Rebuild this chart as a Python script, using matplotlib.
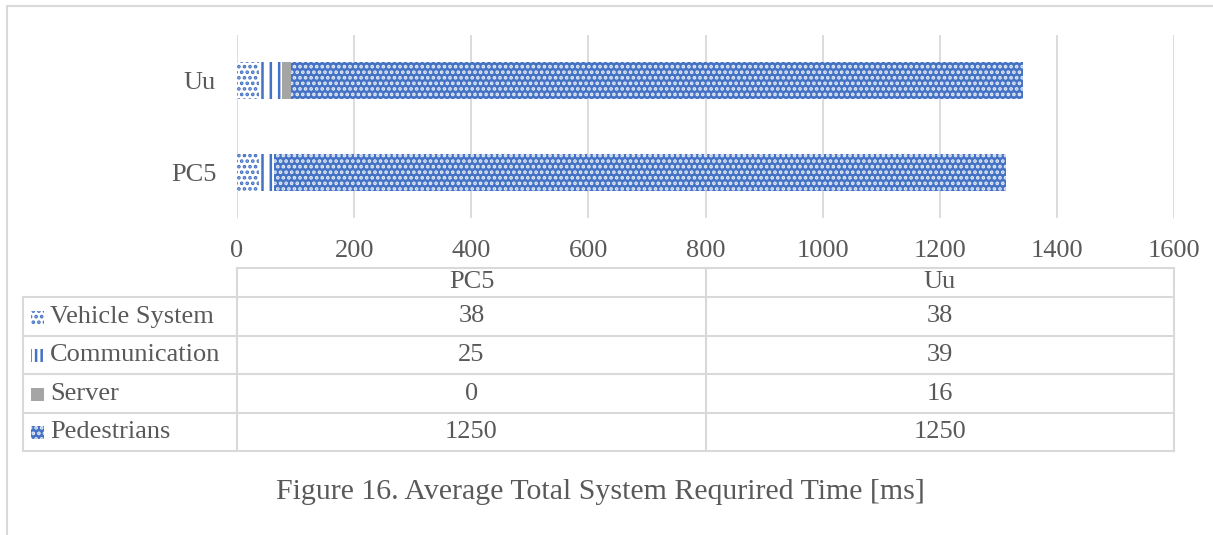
import matplotlib.pyplot as plt
from matplotlib.patches import Rectangle

# data
systems = ["PC5", "Uu"]
components = ["Vehicle System", "Communication", "Server", "Pedestrians"]
vehicle = [38, 38]
communication = [25, 39]
server = [0, 16]
pedestrians = [1250, 1250]
xticks = [0, 200, 400, 600, 800, 1000, 1200, 1400, 1600]
caption = "Figure 16. Average Total System Requrired Time [ms]"

W, H = 1213, 535
BLUE = "#4472C4"
GRAY = "#A5A5A5"
LINE = "#D9D9D9"
TXT = "#595959"
FS = 19

plt.rcParams["font.family"] = ["Liberation Serif", "DejaVu Serif"]
plt.rcParams["hatch.linewidth"] = 1.8

# style per component: facecolor, hatch, hatch colour
styles = [
    dict(facecolor="white", hatch="...", edgecolor=BLUE),
    dict(facecolor="white", hatch="||", edgecolor=BLUE),
    dict(facecolor=GRAY, hatch=None, edgecolor=GRAY),
    dict(facecolor=BLUE, hatch="...", edgecolor="#E4EBF7"),
]
series = [vehicle, communication, server, pedestrians]


def fig_box(left, top, right, bottom):
    return [left / W, 1 - bottom / H, (right - left) / W, (bottom - top) / H]


fig = plt.figure(figsize=(W / 100, H / 100), dpi=100)

# outer frame
fig.patches.append(Rectangle((7 / W, -0.1), 1.2, 1 - 6 / H + 0.1, transform=fig.transFigure,
                             fill=False, edgecolor=LINE, linewidth=1.5))

ax = fig.add_axes(fig_box(237, 35, 1174, 218))
left = [0, 0]
for vals, st in zip(series, styles):
    ax.barh(systems, vals, left=left, height=0.4, linewidth=0, zorder=3, **st)
    left = [l + v for l, v in zip(left, vals)]

ax.set_xlim(0, 1600)
ax.set_ylim(-0.5, 1.5)
ax.set_xticks(xticks)
ax.grid(axis="x", color=LINE, linewidth=1.3, zorder=0)
for s in ax.spines.values():
    s.set_visible(False)
ax.tick_params(length=0, labelsize=FS, colors=TXT, pad=16)
ax.tick_params(axis="y", pad=15)

# data table
tab = fig.add_axes(fig_box(23, 268, 1174, 451))
tab.set_xlim(23, 1174)
tab.set_ylim(451, 268)
tab.axis("off")
cols = [23, 237, 706, 1174]
rows = [268, 297, 336, 374, 413, 451]
kw = dict(color=LINE, linewidth=1.5, clip_on=False)
tab.plot([237, 1174], [268, 268], **kw)
for y in rows[1:]:
    tab.plot([23, 1174], [y, y], **kw)
for x in cols:
    top = rows[1] if x == 23 else 268
    tab.plot([x, x], [top, 451], **kw)

for j, name in enumerate(systems):
    xc = (cols[j + 1] + cols[j + 2]) / 2
    tab.text(xc, (rows[0] + rows[1]) / 2, name, ha="center", va="center", fontsize=FS, color=TXT)
for i, (name, vals, st) in enumerate(zip(components, series, styles)):
    yc = (rows[i + 1] + rows[i + 2]) / 2
    sw = dict(st)
    if sw["hatch"] == "||":
        sw["hatch"] = "|||"  # denser so the small swatch shows two lines
    tab.add_patch(Rectangle((31, yc - 6), 13, 13, linewidth=0, **sw))
    tab.text(50, yc, name, ha="left", va="center", fontsize=FS, color=TXT)
    for j, v in enumerate(vals):
        xc = (cols[j + 1] + cols[j + 2]) / 2
        tab.text(xc, yc, str(v), ha="center", va="center", fontsize=FS, color=TXT)

fig.text(600 / W, 1 - 492 / H, caption, ha="center", va="center", fontsize=21.5, color=TXT)

fig.savefig("out.png", dpi=100)
